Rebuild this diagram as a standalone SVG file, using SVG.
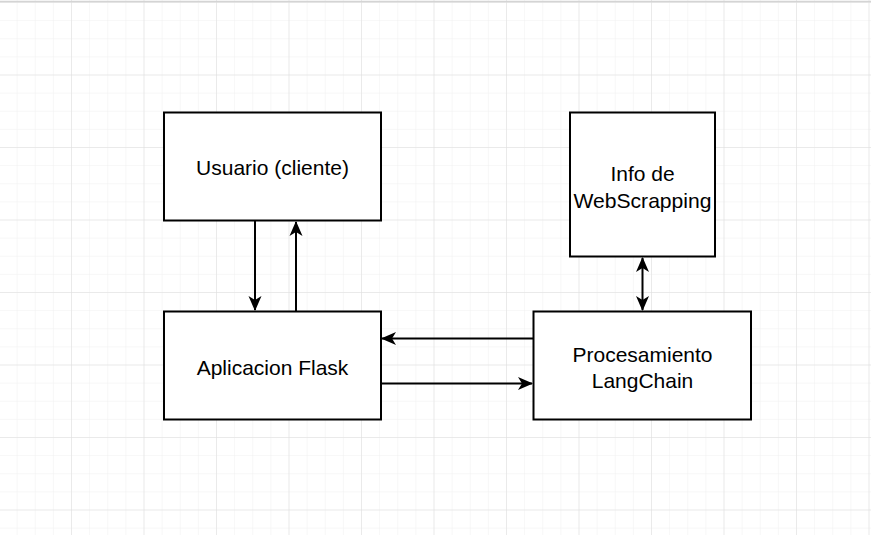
<svg xmlns="http://www.w3.org/2000/svg" width="871" height="535" viewBox="0 0 871 535">
<style>
.box{fill:#fff;stroke:#000;stroke-width:2}
.lbl{font-family:"Liberation Sans",Arial,sans-serif;font-size:21px;fill:#000;text-anchor:middle}
.edge{fill:none;stroke:#000;stroke-width:2}
</style>
<defs>
<pattern id="minor" x="-1.5" y="2" width="18.125" height="18.125" patternUnits="userSpaceOnUse">
<path d="M0 0H18.125M0 0V18.125" fill="none" stroke="#f0f0f0" stroke-width="1"/>
</pattern>
<pattern id="major" x="-1.5" y="2" width="72.5" height="72.5" patternUnits="userSpaceOnUse">
<path d="M0 0H72.5M0 0V72.5" fill="none" stroke="#dedede" stroke-width="1"/>
</pattern>
<marker id="arr" viewBox="0 0 15 14" refX="14" refY="7" markerWidth="15" markerHeight="14" markerUnits="userSpaceOnUse" orient="auto-start-reverse">
<path d="M0 0.5L15 7L0 13.5L4 7Z" fill="#000"/>
</marker>
</defs>
<rect width="871" height="535" fill="#fff"/>
<rect width="871" height="535" fill="url(#minor)"/>
<rect width="871" height="535" fill="url(#major)"/>
<path d="M0 1.5H871" stroke="#d4d4d4" stroke-width="1.5"/>
<g id="connectors">
<path class="edge" d="M255 221V310" marker-end="url(#arr)"/>
<path class="edge" d="M296 311V222" marker-end="url(#arr)"/>
<path class="edge" d="M533 338.5H382" marker-end="url(#arr)"/>
<path class="edge" d="M381 383.5H532" marker-end="url(#arr)"/>
<path class="edge" d="M642.5 258V310" marker-start="url(#arr)" marker-end="url(#arr)"/>
</g>
<g id="usuario">
<rect class="box" x="164" y="112.5" width="217" height="108"/>
<text class="lbl" x="272.5" y="174.5">Usuario (cliente)</text>
</g>
<g id="flask">
<rect class="box" x="164" y="311.5" width="217" height="108"/>
<text class="lbl" x="272.5" y="374.5">Aplicacion Flask</text>
</g>
<g id="info">
<rect class="box" x="570" y="112.5" width="145" height="144"/>
<text class="lbl" x="642.5" y="181">Info de</text>
<text class="lbl" x="642.5" y="208" textLength="138" lengthAdjust="spacingAndGlyphs">WebScrapping</text>
</g>
<g id="langchain">
<rect class="box" x="533.5" y="311.5" width="217.5" height="108"/>
<text class="lbl" x="642.5" y="361.5">Procesamiento</text>
<text class="lbl" x="642.5" y="387.5">LangChain</text>
</g>
</svg>
